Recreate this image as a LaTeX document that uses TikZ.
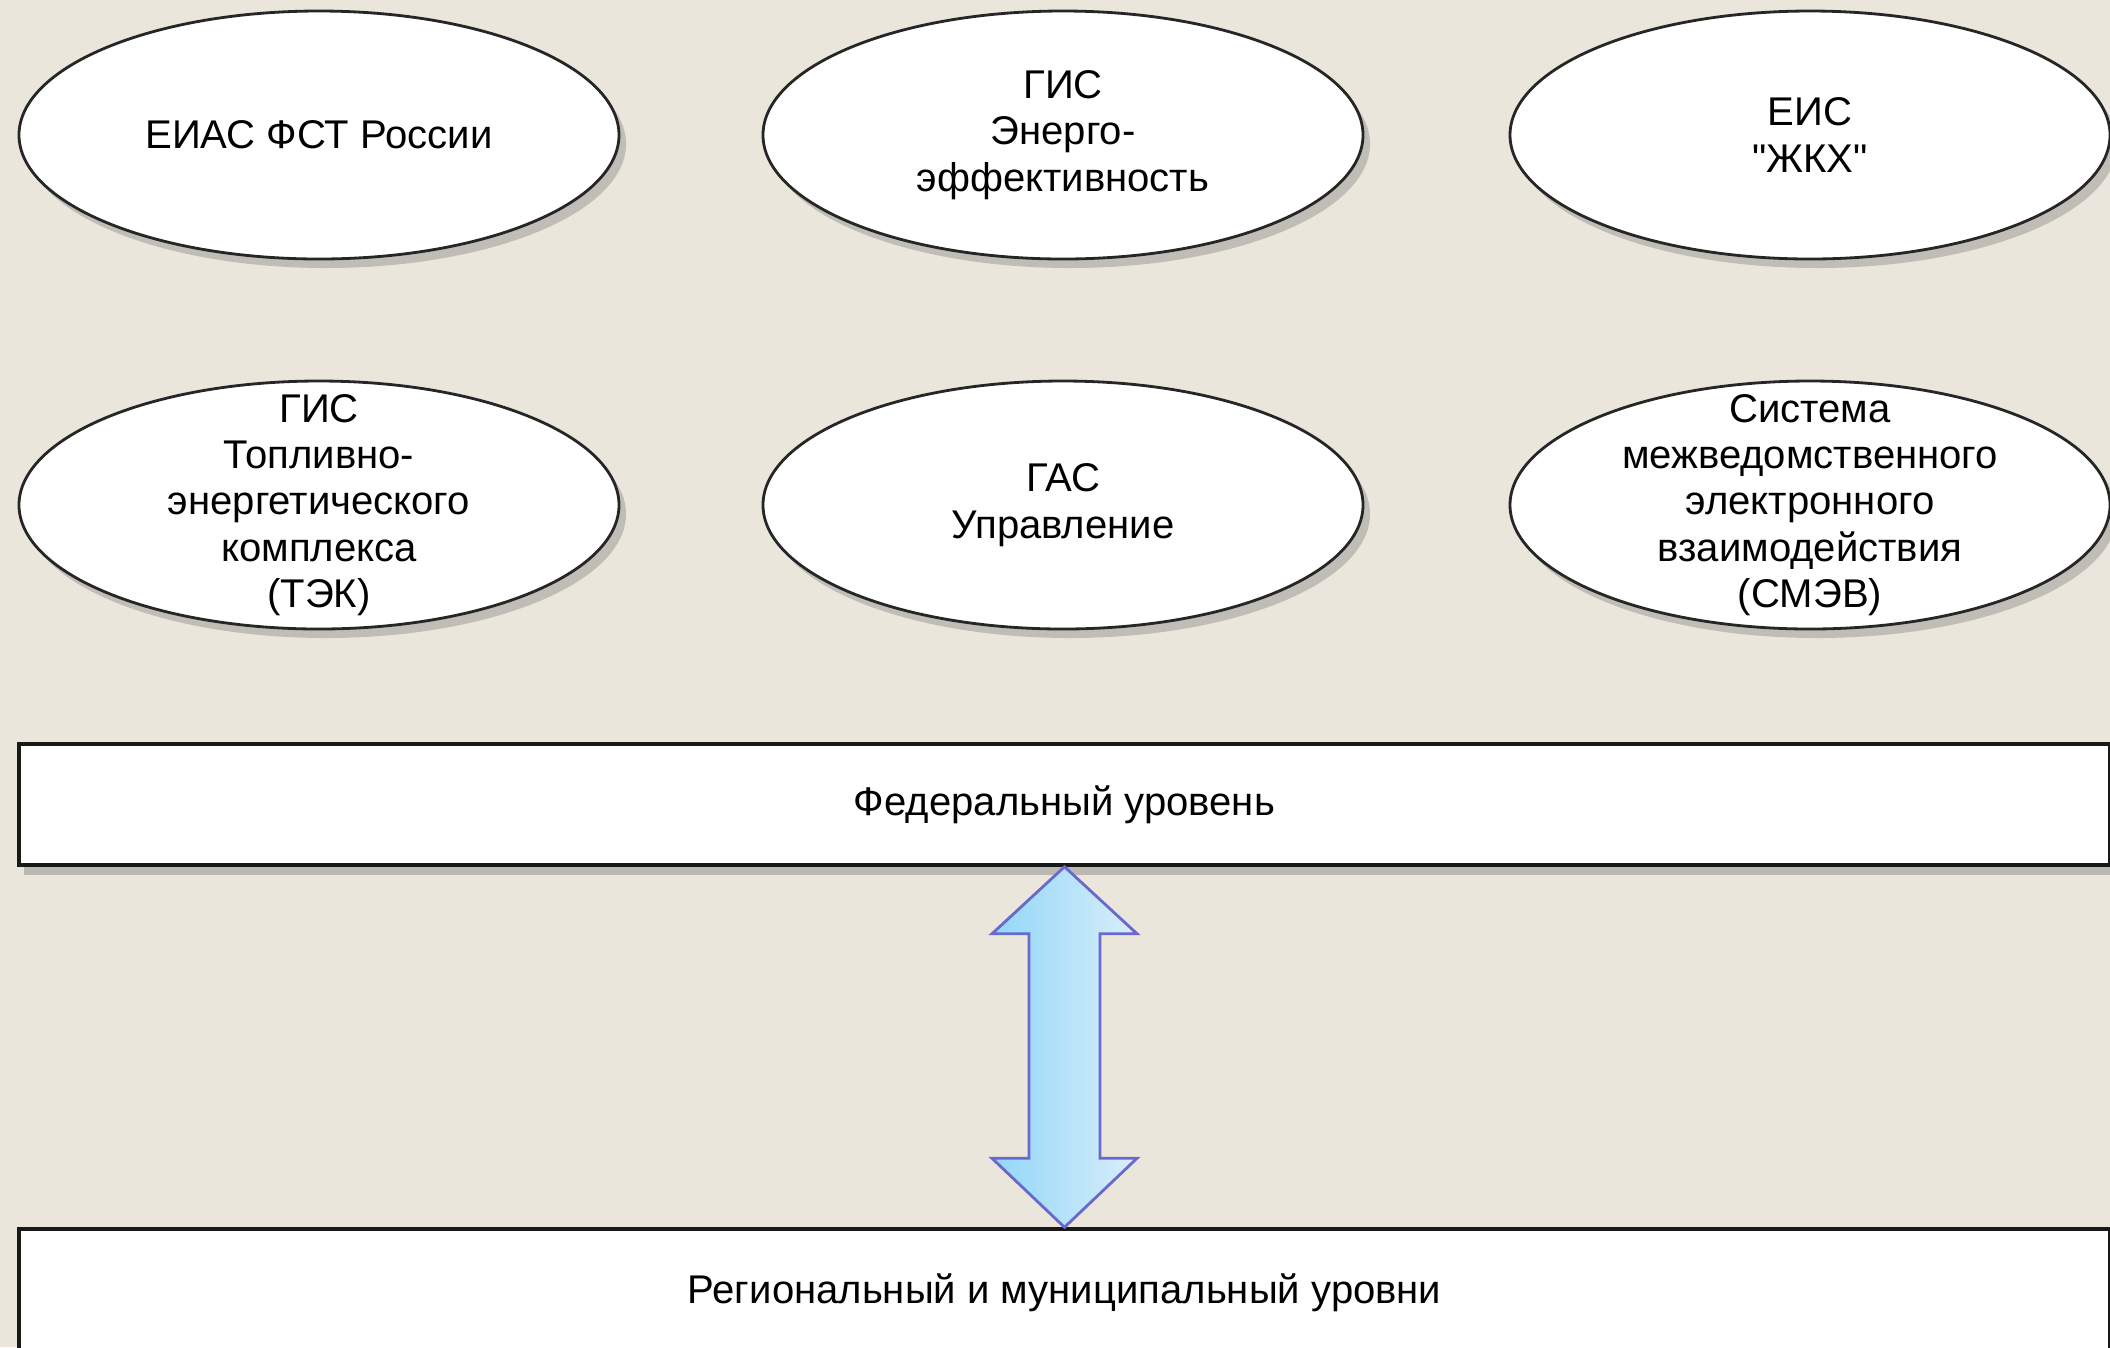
\documentclass[tikz,border=0pt]{standalone}
\usepackage{fontspec}
\setmainfont{Liberation Sans}
\usetikzlibrary{calc,shapes.geometric,shadows}

\definecolor{paper}{RGB}{234,230,219}
\definecolor{arrowedge}{RGB}{105,105,205}
\definecolor{arrowleft}{RGB}{145,215,248}
\definecolor{arrowright}{RGB}{218,238,250}

\begin{document}
\begin{tikzpicture}[
        every node/.style={font=\fontsize{11.4}{13.2}\selectfont, align=center},
        sys/.style={ellipse, draw=black!85, line width=0.8pt, fill=white,
            minimum width=6cm, minimum height=2.48cm, inner sep=-1cm,
            drop shadow={shadow xshift=0.07cm, shadow yshift=-0.09cm, opacity=0.4}},
        level/.style={rectangle, draw=black!90, line width=1pt, fill=white,
            minimum width=20.91cm, minimum height=1.21cm, inner sep=0pt,
            drop shadow={shadow xshift=0.05cm, shadow yshift=-0.1cm, opacity=0.45}}]
        \useasboundingbox (0,0) rectangle (21.1,-13.47);
        \fill[paper] (0,0) rectangle (21.1,-13.47);

        % top row
        \node[sys] (eias) at (3.19,-1.35) {ЕИАС ФСТ России};
        \node[sys] (gisee) at (10.63,-1.35) {ГИС\\Энерго-\\эффективность};
        \node[sys] (eis) at (18.1,-1.35) {ЕИС\\\textquotedbl ЖКХ\textquotedbl};

        % second row
        \node[sys] (gistek) at (3.19,-5.05) {ГИС\\Топливно-\\энергетического\\комплекса\\(ТЭК)};
        \node[sys] (gas) at (10.63,-5.05) {ГАС\\Управление};
        \node[sys] (smev) at (18.1,-5.05) {Система\\межведомственного\\электронного\\взаимодействия\\(СМЭВ)};

        % levels
        \node[level] (fed) at (10.645,-8.045) {Федеральный уровень};
        \node[level, minimum height=2.2cm, text depth=1.0cm] (reg) at (10.645,-13.39) {Региональный и муниципальный уровни};

        \draw[arrowedge, line width=0.8pt, left color=arrowleft, right color=arrowright]
            (fed.south) -- ++(0.725,-0.67) -- ++(-0.37,0)
            -- ($(reg.north)+(0.355,0.69)$) -- ++(0.37,0) -- (reg.north)
            -- ++(-0.725,0.69) -- ++(0.37,0)
            -- ($(fed.south)+(-0.355,-0.67)$) -- ++(-0.37,0) -- cycle;
    \end{tikzpicture}
\end{document}
